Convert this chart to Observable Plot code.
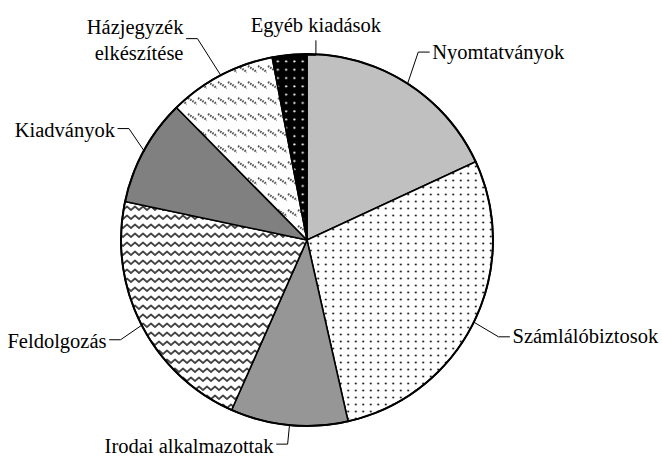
<!DOCTYPE html>
<html><head><meta charset="utf-8">
<script src="https://cdn.jsdelivr.net/npm/d3@7"></script>
<script src="https://cdn.jsdelivr.net/npm/@observablehq/plot@0.6"></script>
<style>body{margin:0;background:#fff} svg text{font-family:"Liberation Serif","Times New Roman","DejaVu Serif",serif !important;}</style>
</head><body><div id="chart"></div>
<script>
// ---- data ----
const categories = ["Nyomtatványok","Számlálóbiztosok","Irodai alkalmazottak","Feldolgozás","Kiadványok","Házjegyzék elkészítése","Egyéb kiadások"];
const shares = [18.1, 28.4, 10.2, 21.7, 9.3, 9.4, 3.0];
const labelTexts = ["Nyomtatványok","Számlálóbiztosok","Irodai alkalmazottak","Feldolgozás","Kiadványok","Házjegyzék\nelkészítése","Egyéb kiadások"];

// ---- style / layout ----
const fills = ["#c0c0c0","url(#p-dots)","#969696","url(#p-wave)","#808080","url(#p-dash)","url(#p-bdots)"];
const labelRadius = [1.175, 1.15, 1.1, 1.138, 1.133, 1.236, 1.075];
const labelShiftDeg = [-2.1, 0.6, 0, -0.9, 3.4, -0.9, 7.8];
const labelMode = ["side","side","side","side","side","side","top"];

const W = 662, H = 456, CX = 307, CY = 240, R = 186;
const data = categories.map((category, i) => ({category, value: shares[i]}));
const arcs = d3.pie().sort(null).value(d => d.value)(data);
const rad = Math.PI / 180;
const SEG = 11 / R, GAP = 3 / R, TOPGAP = 9 / R;

const leaders = [], labels = [];
arcs.forEach((a, i) => {
  const m = (a.startAngle + a.endAngle) / 2;
  const ax = Math.sin(m), ay = Math.cos(m);
  const la = m + labelShiftDeg[i] * rad, k = labelRadius[i];
  const ex = Math.sin(la) * k, ey = Math.cos(la) * k;
  if (labelMode[i] === "top") {
    leaders.push({i, x: ax, y: ay}, {i, x: ex, y: ay}, {i, x: ex, y: ey});
    labels.push({mode: "top", x: ex, y: ey + TOPGAP, text: labelTexts[i]});
  } else {
    const s = Math.sign(ax);
    leaders.push({i, x: ax, y: ay}, {i, x: ex, y: ey}, {i, x: ex + s * SEG, y: ey});
    labels.push({mode: s > 0 ? "right" : "left", x: ex + s * (SEG + GAP), y: ey, text: labelTexts[i]});
  }
});

function pieMark(index, scales) {
  const {x, y} = scales;
  const cx = x(0), cy = y(0), r = x(1) - x(0);
  const g = d3.create("svg:g");
  const defs = g.append("defs");
  const p1 = defs.append("pattern").attr("id","p-dots").attr("patternUnits","userSpaceOnUse").attr("width",7.5).attr("height",7);
  p1.append("rect").attr("width",7.5).attr("height",7).attr("fill","#fff");
  p1.append("circle").attr("cx",3.75).attr("cy",3.5).attr("r",1.1).attr("fill","#222");
  const p2 = defs.append("pattern").attr("id","p-wave").attr("patternUnits","userSpaceOnUse").attr("width",8).attr("height",9);
  p2.append("rect").attr("width",8).attr("height",9).attr("fill","#fff");
  p2.append("path").attr("d","M-4,2.5 L0,6 L4,2.5 L8,6 L12,2.5").attr("fill","none").attr("stroke","#444").attr("stroke-width",1.7).attr("stroke-linejoin","round");
  const p3 = defs.append("pattern").attr("id","p-dash").attr("patternUnits","userSpaceOnUse").attr("width",10).attr("height",16);
  p3.append("rect").attr("width",10).attr("height",16).attr("fill","#fff");
  p3.append("line").attr("x1",1).attr("y1",2).attr("x2",10).attr("y2",8).attr("stroke","#555").attr("stroke-width",2.2).attr("stroke-dasharray","1.6 1");
  const p4 = defs.append("pattern").attr("id","p-bdots").attr("patternUnits","userSpaceOnUse").attr("width",8.3).attr("height",8.3);
  p4.append("rect").attr("width",8.3).attr("height",8.3).attr("fill","#000");
  p4.append("circle").attr("cx",4).attr("cy",4).attr("r",1.1).attr("fill","#eee");

  const arcGen = d3.arc().innerRadius(0).outerRadius(r);
  const pg = g.append("g").attr("transform", `translate(${cx},${cy})`);
  pg.selectAll("path").data(arcs).join("path")
    .attr("d", arcGen)
    .attr("fill", (d, i) => fills[i])
    .attr("stroke", "#000").attr("stroke-width", 1.6).attr("stroke-linejoin", "round");
  pg.append("circle").attr("r", r).attr("fill", "none").attr("stroke", "#000").attr("stroke-width", 2);
  return g.node();
}

const font = "Liberation Serif";
const FS = 20.5;
const chart = Plot.plot({
  width: W, height: H, margin: 0,
  x: {domain: [-CX / R, (W - CX) / R], range: [0, W], axis: null},
  y: {domain: [-(H - CY) / R, CY / R], range: [H, 0], axis: null},
  style: {fontFamily: font, background: "#fff", color: "#000"},
  marks: [
    pieMark,
    Plot.line(leaders, {x: "x", y: "y", z: "i", stroke: "#000", strokeWidth: 1}),
    Plot.text(labels.filter(d => d.mode === "right"), {x: "x", y: "y", text: "text", textAnchor: "start", fontSize: FS, fontFamily: font, fill: "#000"}),
    Plot.text(labels.filter(d => d.mode === "left"), {x: "x", y: "y", text: "text", textAnchor: "end", fontSize: FS, fontFamily: font, lineHeight: 1.3, fill: "#000"}),
    Plot.text(labels.filter(d => d.mode === "top"), {x: "x", y: "y", text: "text", textAnchor: "middle", lineAnchor: "bottom", fontSize: FS, fontFamily: font, fill: "#000"})
  ]
});
document.getElementById("chart").appendChild(chart);
</script>
</body></html>
